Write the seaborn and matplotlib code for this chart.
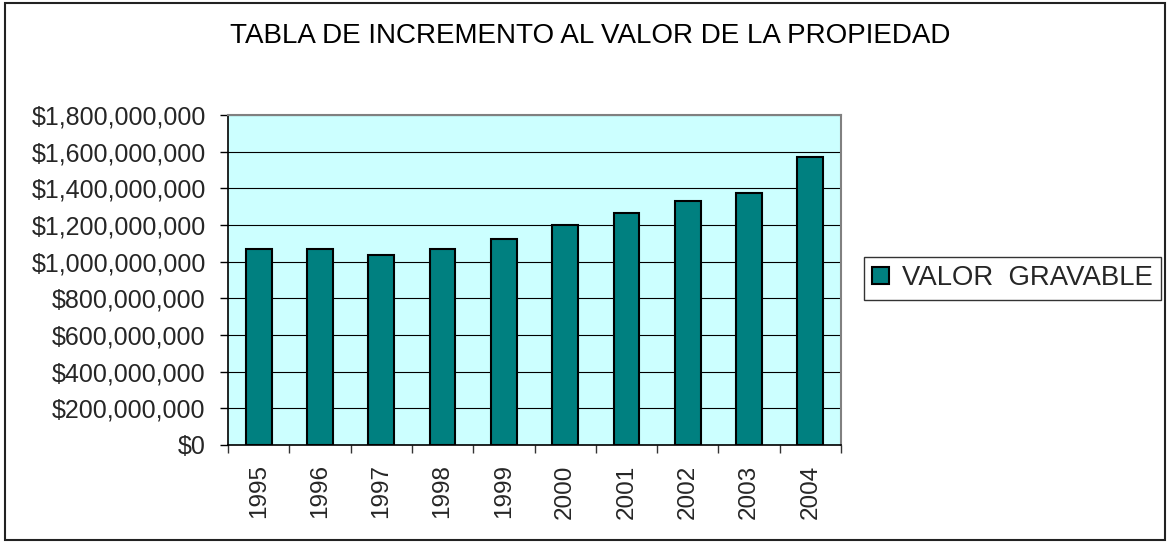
import matplotlib
matplotlib.use("Agg")
import matplotlib.pyplot as plt
import matplotlib.ticker as mticker
from matplotlib.patches import Rectangle, Patch
import seaborn as sns
import pandas as pd
import numpy as np

years = ["1995", "1996", "1997", "1998", "1999", "2000", "2001", "2002", "2003", "2004"]
valor_gravable = [1067e6, 1067e6, 1036e6, 1067e6, 1124e6, 1200e6, 1264e6, 1331e6, 1373e6, 1569e6]
series_name = "VALOR  GRAVABLE"
title = "TABLA DE INCREMENTO AL VALOR DE LA PROPIEDAD"
y_ticks = [0, 200e6, 400e6, 600e6, 800e6, 1000e6, 1200e6, 1400e6, 1600e6, 1800e6]

sns.set_theme(style="white")
plt.rcParams["font.family"] = ["Liberation Sans", "DejaVu Sans"]

df = pd.DataFrame({"year": years, "value": valor_gravable, "serie": series_name})

W, H = 1167, 542
fig = plt.figure(figsize=(W / 100, H / 100), dpi=100)
ax = fig.add_axes([228 / W, 1 - 445 / H, (841 - 228) / W, (445 - 115) / H])
ax.set_facecolor("#CCFFFF")

sns.barplot(data=df, x="year", y="value", color="#008080", width=0.42,
            edgecolor="black", linewidth=1.5, ax=ax, zorder=3, saturation=1)

ax.set_ylim(0, 1.8e9)
ax.set_xlim(-0.5, len(years) - 0.5)
ax.set_yticks(y_ticks)
ax.yaxis.set_major_formatter(mticker.FuncFormatter(lambda v, p: "${:,.0f}".format(v)))
ax.grid(axis="y", color="black", linewidth=0.8, zorder=1)
ax.set_axisbelow(True)
ax.set_xlabel("")
ax.set_ylabel("")

ax.tick_params(axis="y", which="major", direction="out", length=6, width=1,
               color="black", labelsize=18, pad=10, left=True)
ax.tick_params(axis="x", which="major", length=0, labelsize=17.5, pad=14,
               labelrotation=90)
ax.set_xticks(np.arange(-0.5, len(years), 1.0), minor=True)
ax.tick_params(axis="x", which="minor", direction="out", length=6, width=1,
               color="#333333", bottom=True)

for s in ["left", "bottom"]:
    ax.spines[s].set_color("black")
    ax.spines[s].set_linewidth(1.2)
for s in ["top", "right"]:
    ax.spines[s].set_color("#808080")
    ax.spines[s].set_linewidth(1.5)

fig.text(590.5 / W, 1 - 36 / H, title, ha="center", va="center", fontsize=20, color="black")

handle = Patch(facecolor="#008080", edgecolor="black", linewidth=1.5, label=series_name)
leg = fig.legend(handles=[handle], loc="upper left",
                 bbox_to_anchor=(864 / W, 1 - 257 / H), borderaxespad=0,
                 fontsize=19.8, frameon=True, fancybox=False, handlelength=0.62,
                 handleheight=0.62, handletextpad=0.45, borderpad=0.3)
leg.get_frame().set_edgecolor("black")
leg.get_frame().set_linewidth(1.0)
leg.get_frame().set_facecolor("white")

fig.patches.append(Rectangle((5 / W, 2 / H), 1160 / W, 537 / H, transform=fig.transFigure,
                             fill=False, edgecolor="#222222", linewidth=1.5))

fig.savefig("out.png", dpi=100)
